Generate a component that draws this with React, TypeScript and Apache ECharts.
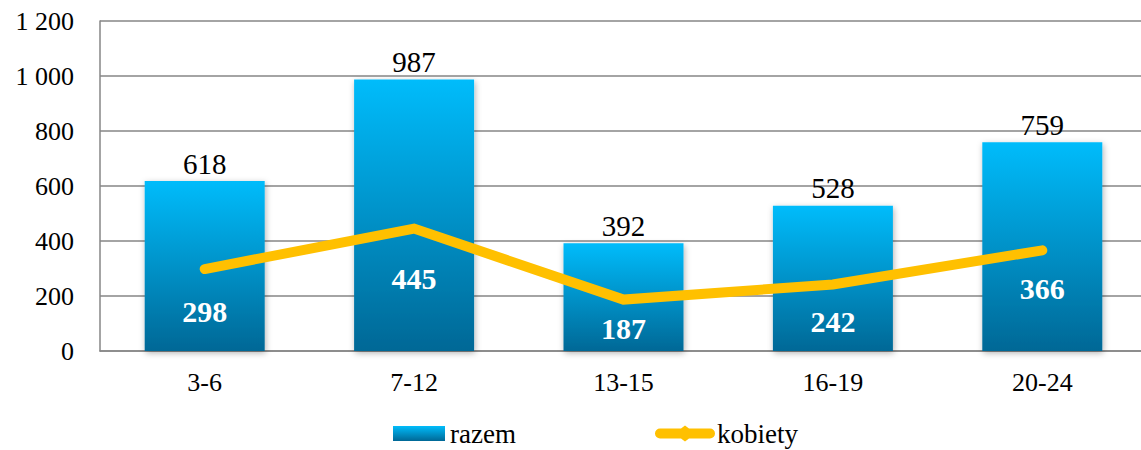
import React, { useEffect, useRef } from "react";
import * as echarts from "echarts";

const categories = ["3-6", "7-12", "13-15", "16-19", "20-24"];
const razem = [618, 987, 392, 528, 759];
const kobiety = [298, 445, 187, 242, 366];
const kobietyLabelShift = [42, 50, 29, 37, 38];
const yTicks = { min: 0, max: 1200, interval: 200 };

const FONT = "'Liberation Serif', 'DejaVu Serif', serif";

export default function App() {
  const ref = useRef<HTMLDivElement>(null);
  useEffect(() => {
    if (!ref.current) return;
    const chart = echarts.init(ref.current, undefined, { renderer: "svg" });
    const barGrad = new echarts.graphic.LinearGradient(0, 0, 0, 1, [
      { offset: 0, color: "#00BCFB" },
      { offset: 1, color: "#006896" },
    ]);
    chart.setOption({
      animation: false,
      backgroundColor: "#ffffff",
      grid: { left: 100, top: 21, width: 1047, height: 330 },
      legend: [
        {
          left: 393,
          top: 420,
          itemWidth: 52,
          itemHeight: 15,
          padding: 0,
          itemGap: 5,
          textStyle: { fontFamily: FONT, fontSize: 27, color: "#000" },
          data: [{ name: "razem", icon: "rect" }],
        },
        {
          left: 655,
          top: 420,
          itemWidth: 60,
          itemHeight: 16,
          padding: 0,
          textStyle: { fontFamily: FONT, fontSize: 27, color: "#000", padding: [0, 0, 0, -3] },
          data: [
            {
              name: "kobiety",
              icon: "path://M5,3 L26,3 L30,0 L34,3 L55,3 A5,5 0 0 1 55,13 L34,13 L30,16 L26,13 L5,13 A5,5 0 0 1 5,3 Z",
              itemStyle: { color: "#FFC000" },
            },
          ],
        },
      ],
      xAxis: {
        type: "category",
        data: categories,
        axisTick: { show: false },
        axisLine: { show: true, lineStyle: { color: "#868686", width: 1.5 } },
        axisLabel: { fontFamily: FONT, fontSize: 26, color: "#000", margin: 18 },
      },
      yAxis: {
        type: "value",
        min: yTicks.min,
        max: yTicks.max,
        interval: yTicks.interval,
        axisLine: { show: true, lineStyle: { color: "#868686", width: 1.5 } },
        axisTick: { show: false },
        splitLine: { lineStyle: { color: "#868686", width: 1.5 } },
        axisLabel: {
          fontFamily: FONT,
          fontSize: 26,
          color: "#000",
          margin: 26,
          formatter: (v: number) => String(v).replace(/\B(?=(\d{3})+(?!\d))/g, " "),
        },
      },
      series: [
        {
          name: "razem",
          type: "bar",
          data: razem,
          barWidth: 120,
          itemStyle: {
            color: barGrad,
            shadowBlur: 6,
            shadowColor: "rgba(0,0,0,0.3)",
            shadowOffsetX: 1,
            shadowOffsetY: 2,
          },
          label: {
            show: true,
            position: "top",
            distance: 3,
            fontFamily: FONT,
            fontSize: 29,
            color: "#000",
          },
          z: 2,
        },
        {
          name: "kobiety",
          type: "line",
          data: kobiety.map((v, i) => ({
            value: v,
            label: { offset: [0, kobietyLabelShift[i]] },
          })),
          symbol: "circle",
          symbolSize: 2,
          itemStyle: { color: "#FFC000" },
          lineStyle: { color: "#FFC000", width: 10, cap: "round", join: "miter" },
          label: {
            show: true,
            position: "inside",
            fontFamily: FONT,
            fontWeight: "bold",
            fontSize: 30,
            color: "#fff",
          },
          z: 3,
        },
      ],
    });
    return () => chart.dispose();
  }, []);
  return (
    <div style={{ position: "absolute", left: 0, top: 0, width: 1141, height: 450, overflow: "hidden" }}>
      <div ref={ref} style={{ width: 1160, height: 450 }} />
    </div>
  );
}
